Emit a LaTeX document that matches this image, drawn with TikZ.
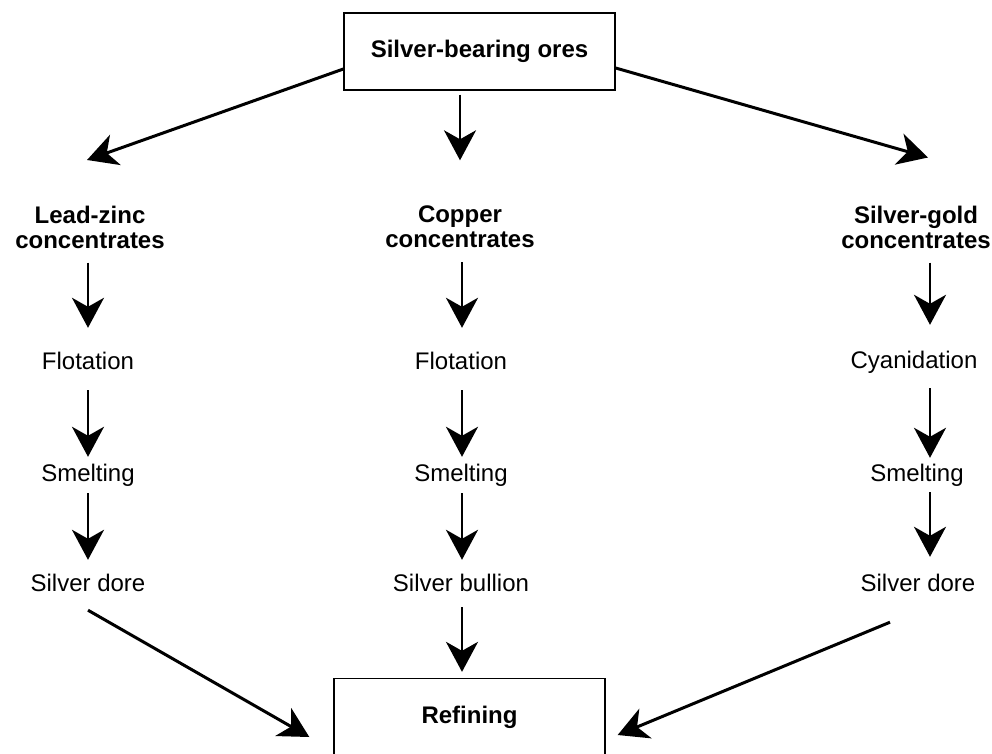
\documentclass[tikz,border=0pt]{standalone}
\usepackage{fontspec}
\setmainfont{Liberation Sans}
\usetikzlibrary{arrows.meta}
\begin{document}
\begin{tikzpicture}[x=1pt,y=-1pt,
  box/.style={draw, line width=1.3pt, inner sep=0pt, minimum width=271pt,
    minimum height=77pt, font=\fontsize{24}{25}\selectfont\bfseries},
  head/.style={inner sep=0pt, align=center, font=\fontsize{24}{25}\selectfont\bfseries},
  lbl/.style={inner sep=0pt, font=\fontsize{24}{25}\selectfont,
    text height=17pt, text depth=5pt},
  arr/.style={line width=2.6pt, -{Stealth[length=30pt,width=32pt,inset=9pt]}},
  diag/.style={arr, line width=3pt}]
\useasboundingbox (0,0) rectangle (992,753);
\clip (0,0) rectangle (992,753);

% source and sink boxes
\node[box] (ores) at (479.5,51.5) {Silver-bearing ores};
\node[box] (ref) at (469.5,717) {Refining};

% concentrate types
\node[head] (lz) at (90,227) {Lead-zinc\\concentrates};
\node[head] (cu) at (460,227) {Copper\\concentrates};
\node[head] (ag) at (916,227) {Silver-gold\\concentrates};

% left column
\node[lbl] (flL) at (88,363) {Flotation};
\node[lbl] (smL) at (88,475) {Smelting};
\node[lbl] (sdL) at (88,585) {Silver dore};

% middle column
\node[lbl] (flM) at (461,363) {Flotation};
\node[lbl] (smM) at (461,475) {Smelting};
\node[lbl] (sbM) at (461,585) {Silver bullion};

% right column
\node[lbl] (cyR) at (914,362) {Cyanidation};
\node[lbl] (smR) at (917,475) {Smelting};
\node[lbl] (sdR) at (918,585) {Silver dore};

% from ores to concentrates
\draw[diag] ([yshift=-17.5pt]ores.west) -- ([xshift=-3pt,yshift=45.5pt]lz.north);
\draw[arr, shorten <=4pt] ([xshift=-19.5pt]ores.south) -- ([yshift=45.5pt]cu.north);
\draw[diag] ([yshift=-16.5pt]ores.east) -- ([xshift=12pt,yshift=48pt]ag.north);

% left chain
\draw[arr, shorten <=14pt, shorten >=24pt] ([xshift=-2pt]lz.south) -- (flL.north);
\draw[arr, shorten <=16pt, shorten >=7pt] (flL) -- (smL);
\draw[arr, shorten <=7pt, shorten >=14pt] (smL.south) -- (sdL.north);

% middle chain
\draw[arr, shorten <=14pt, shorten >=24pt] ([xshift=2pt]cu.south) -- ([xshift=1pt]flM.north);
\draw[arr, shorten <=16pt, shorten >=7pt] ([xshift=1pt]flM.south) -- ([xshift=1pt]smM.north);
\draw[arr, shorten <=7pt, shorten >=14pt] ([xshift=1pt]smM.south) -- ([xshift=1pt]sbM.north);
\draw[arr, shorten <=11pt, shorten >=6pt] ([xshift=1pt]sbM.south) -- ([xshift=-7.5pt]ref.north);

% right chain
\draw[arr, shorten <=14pt, shorten >=26pt] ([xshift=14pt]ag.south) -- ([xshift=16pt]cyR.north);
\draw[arr, shorten <=15pt, shorten >=6pt] ([xshift=16pt]cyR.south) -- ([xshift=13pt]smR.north);
\draw[arr, shorten <=6pt, shorten >=17pt] ([xshift=13pt]smR.south) -- ([xshift=12pt]sdR.north);

% into refining
\draw[diag] ([yshift=-14pt]sdL.south) -- ([xshift=-24pt,yshift=-20pt]ref.west);
\draw[diag] ([xshift=-28pt,yshift=-26pt]sdR.south) -- ([xshift=12pt,yshift=-18pt]ref.east);
\end{tikzpicture}
\end{document}
